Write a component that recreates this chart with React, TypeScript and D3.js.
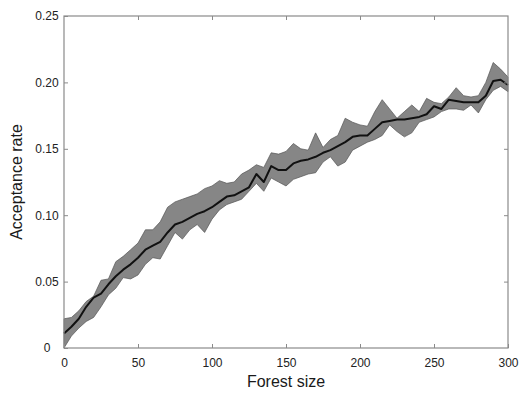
import { useEffect, useRef } from 'react';
import * as d3 from 'd3';

// forest size sampled every 5
const forestSizes = d3.range(0, 301, 5);

const meanRate = [
  0.011, 0.016, 0.022, 0.031, 0.038, 0.041, 0.048, 0.054, 0.059, 0.063,
  0.068, 0.074, 0.077, 0.080, 0.087, 0.093, 0.095, 0.098, 0.101, 0.103,
  0.106, 0.110, 0.114, 0.115, 0.118, 0.121, 0.131, 0.125, 0.137, 0.134,
  0.134, 0.139, 0.141, 0.142, 0.144, 0.147, 0.149, 0.152, 0.155, 0.159,
  0.160, 0.160, 0.165, 0.170, 0.171, 0.172, 0.172, 0.173, 0.174, 0.176,
  0.182, 0.180, 0.187, 0.186, 0.185, 0.185, 0.185, 0.190, 0.201, 0.202,
  0.198,
];

const upperRate = [
  0.022, 0.023, 0.028, 0.035, 0.039, 0.051, 0.052, 0.065, 0.069, 0.074,
  0.079, 0.089, 0.089, 0.095, 0.106, 0.110, 0.112, 0.114, 0.116, 0.120,
  0.122, 0.126, 0.124, 0.125, 0.131, 0.134, 0.138, 0.136, 0.147, 0.146,
  0.148, 0.154, 0.150, 0.149, 0.162, 0.151, 0.157, 0.160, 0.173, 0.170,
  0.168, 0.167, 0.178, 0.187, 0.180, 0.173, 0.178, 0.183, 0.178, 0.188,
  0.185, 0.184, 0.189, 0.196, 0.190, 0.189, 0.190, 0.200, 0.215, 0.210,
  0.204,
];

const lowerRate = [
  0.000, 0.009, 0.015, 0.020, 0.023, 0.031, 0.040, 0.045, 0.053, 0.052,
  0.055, 0.063, 0.068, 0.067, 0.077, 0.087, 0.082, 0.089, 0.093, 0.087,
  0.097, 0.104, 0.108, 0.110, 0.112, 0.118, 0.124, 0.118, 0.128, 0.125,
  0.122, 0.127, 0.129, 0.131, 0.132, 0.140, 0.144, 0.137, 0.140, 0.149,
  0.152, 0.155, 0.157, 0.160, 0.168, 0.163, 0.159, 0.162, 0.170, 0.172,
  0.174, 0.178, 0.180, 0.180, 0.179, 0.183, 0.177, 0.187, 0.194, 0.197,
  0.193,
];

const xTicks = [0, 50, 100, 150, 200, 250, 300];
const yTicks = [0, 0.05, 0.1, 0.15, 0.2, 0.25];
const yTickLabels = ['0', '0.05', '0.10', '0.15', '0.20', '0.25'];

const App = () => {
  const svgRef = useRef(null);

  useEffect(() => {
    const width = 521;
    const height = 393;
    const margin = { top: 16, right: 13, bottom: 45, left: 64 };
    const font = '"Liberation Sans", Arial, Helvetica, sans-serif';

    const svg = d3.select(svgRef.current);
    svg.selectAll('*').remove();

    const x = d3.scaleLinear()
      .domain([0, 300])
      .range([margin.left, width - margin.right]);

    const y = d3.scaleLinear()
      .domain([0, 0.25])
      .range([height - margin.bottom, margin.top]);

    const rows = forestSizes.map((f, i) => ({
      f, mean: meanRate[i], lo: lowerRate[i], hi: upperRate[i],
    }));

    // shaded band
    const band = d3.area()
      .x(d => x(d.f))
      .y0(d => y(d.lo))
      .y1(d => y(d.hi));

    svg.append('path')
      .datum(rows)
      .attr('d', band)
      .attr('fill', '#868686')
      .attr('stroke', '#555')
      .attr('stroke-width', 0.7)
      .attr('stroke-linejoin', 'round');

    // mean line
    const line = d3.line()
      .x(d => x(d.f))
      .y(d => y(d.mean));

    svg.append('path')
      .datum(rows)
      .attr('d', line)
      .attr('fill', 'none')
      .attr('stroke', '#111')
      .attr('stroke-width', 2)
      .attr('stroke-linejoin', 'round');

    const axisColor = '#8a8a8a';
    const tick = 4;

    // box
    svg.append('rect')
      .attr('x', x(0))
      .attr('y', y(0.25))
      .attr('width', x(300) - x(0))
      .attr('height', y(0) - y(0.25))
      .attr('fill', 'none')
      .attr('stroke', axisColor)
      .attr('stroke-width', 1.2);

    // x ticks, bottom and top, pointing inward
    const bottom = svg.append('g')
      .attr('transform', `translate(0,${y(0)})`)
      .call(d3.axisBottom(x).tickValues(xTicks).tickSizeInner(-tick).tickSizeOuter(0).tickPadding(10));
    const top = svg.append('g')
      .attr('transform', `translate(0,${y(0.25)})`)
      .call(d3.axisTop(x).tickValues(xTicks.slice(1, -1)).tickSizeInner(-tick).tickSizeOuter(0).tickFormat(() => ''));

    // y ticks, left and right, pointing inward
    const left = svg.append('g')
      .attr('transform', `translate(${x(0)},0)`)
      .call(d3.axisLeft(y).tickValues(yTicks).tickSizeInner(-tick).tickSizeOuter(0)
        .tickPadding(17).tickFormat((d, i) => yTickLabels[i]));
    const right = svg.append('g')
      .attr('transform', `translate(${x(300)},0)`)
      .call(d3.axisRight(y).tickValues(yTicks.slice(1, -1)).tickSizeInner(-tick).tickSizeOuter(0).tickFormat(() => ''));

    [bottom, top, left, right].forEach(g => {
      g.select('.domain').remove();
      g.selectAll('line').attr('stroke', axisColor);
      g.selectAll('text')
        .style('font-family', font)
        .style('font-size', '12px')
        .attr('fill', '#222');
    });
    left.selectAll('text').attr('text-anchor', 'middle');

    // axis titles
    svg.append('text')
      .attr('x', (x(0) + x(300)) / 2)
      .attr('y', 387)
      .attr('text-anchor', 'middle')
      .style('font-family', font)
      .style('font-size', '16px')
      .attr('fill', '#1a1a1a')
      .text('Forest size');

    svg.append('text')
      .attr('transform', `translate(22,${(y(0) + y(0.25)) / 2}) rotate(-90)`)
      .attr('text-anchor', 'middle')
      .style('font-family', font)
      .style('font-size', '16px')
      .attr('fill', '#1a1a1a')
      .text('Acceptance rate');
  }, []);

  return (
    <svg
      ref={svgRef}
      width={521}
      height={393}
      style={{ position: 'absolute', left: 0, top: 0, background: '#fff' }}
    />
  );
};

export default App;
